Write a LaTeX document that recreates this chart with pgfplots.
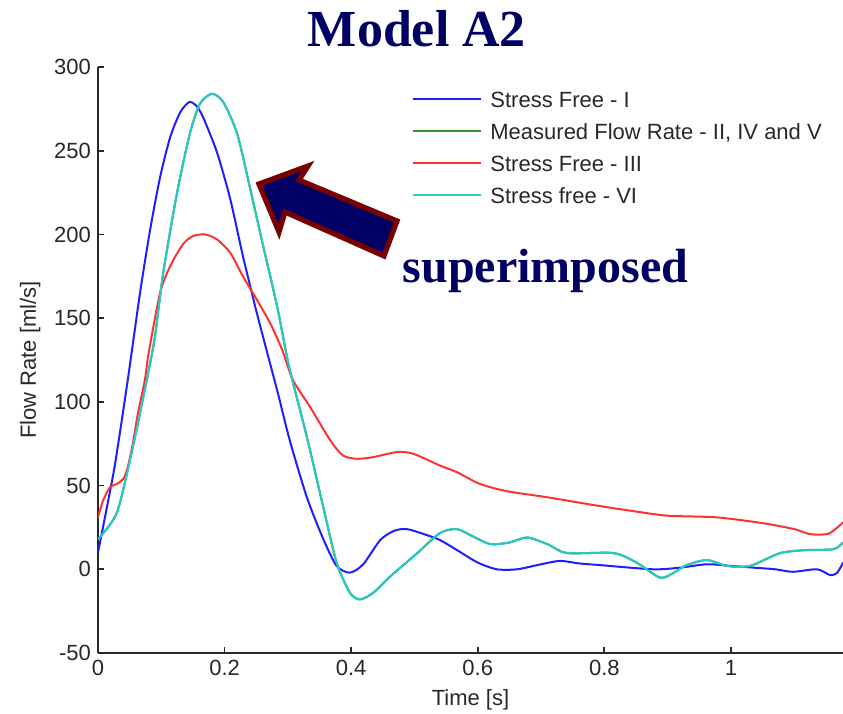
\documentclass[border=0pt]{standalone}
\usepackage{fontspec}
\usepackage{pgfplots}
\pgfplotsset{compat=1.18}
\newfontfamily\arial{Liberation Sans}
\newfontfamily\tnr{Liberation Serif}
\definecolor{cB}{RGB}{30,30,255}
\definecolor{cG}{RGB}{40,150,40}
\definecolor{cR}{RGB}{255,50,50}
\definecolor{cC}{RGB}{40,200,200}
\definecolor{navy}{RGB}{0,0,100}
\definecolor{darkred}{RGB}{120,0,0}
\definecolor{axgray}{RGB}{40,40,40}
\begin{document}
\begin{tikzpicture}
\useasboundingbox (-49pt,-30.5pt) rectangle (372.5pt,326.5pt);
\begin{axis}[
  at={(0pt,0pt)}, anchor=south west, scale only axis,
  width=372.5pt, height=293pt,
  xmin=0, xmax=1.177, ymin=-50, ymax=300,
  axis x line*=bottom, axis y line*=left,
  xtick={0,0.2,0.4,0.6,0.8,1},
  ytick={-50,0,50,100,150,200,250,300},
  tick align=inside, major tick length=3pt,
  axis line style={line width=0.9pt, color=axgray},
  tick style={line width=0.9pt, color=axgray},
  /pgf/number format/assume math mode=true,
  ticklabel style={font=\arial\fontsize{11}{13}\selectfont, text=axgray},
  label style={font=\arial\fontsize{11}{13}\selectfont, text=axgray},
  xlabel={Time [s]}, ylabel={Flow Rate [ml/s]},
  legend style={draw=none, fill=none, inner sep=0pt, at={(0.4215,0.959)}, anchor=north west,
    font=\arial\fontsize{11}{13}\selectfont, text=axgray,
    nodes={inner sep=0pt, text height=8pt, text depth=0pt},
    row sep=8pt, column sep=4pt},
  legend cell align=left,
  legend image code/.code={\draw[#1, line width=1pt] (0pt,0pt) -- (34pt,0pt);},
  every axis plot/.append style={line width=1pt, no markers},
]
\addplot[cB, smooth, tension=0.45] table {
0 10
0.013 35
0.027 63
0.047 113
0.066 164
0.082 202
0.098 234
0.114 258
0.13 273
0.144 279
0.155 277
0.166 270
0.188 249
0.209 221
0.229 187
0.251 153
0.269 127
0.285 104
0.303 77
0.33 43
0.356 18
0.377 2
0.398 -2
0.419 3
0.446 17.5
0.468 23
0.488 24
0.515 21
0.54 17.5
0.567 11.5
0.6 4
0.63 0
0.662 0
0.7 3
0.73 5
0.76 3.5
0.793 2.5
0.877 0
0.92 1
0.962 3
1.0 2
1.035 1
1.07 0
1.098 -1.5
1.136 0
1.157 -3.5
1.168 -2
1.177 4
};
\addlegendentry{Stress Free - I}
\addplot[cG, smooth, tension=0.45] table {
0 18
0.03 34
0.055 73
0.077 113
0.09 139
0.103 177
0.125 225
0.145 260
0.161 278
0.18 284
0.198 279
0.22 260
0.24 228
0.261 193
0.283 157
0.299 126
0.307 113
0.33 79
0.356 37
0.377 4
0.398 -14
0.414 -18
0.435 -14
0.461 -4.5
0.504 9.5
0.54 21.6
0.567 24
0.593 19.5
0.62 15
0.65 16
0.678 19
0.71 15
0.741 9.7
0.814 9.7
0.851 4
0.888 -5
0.91 -2
0.93 2.5
0.962 5.5
0.994 2
1.03 2
1.078 9.7
1.12 11.5
1.162 12
1.177 16
};
\addlegendentry{Measured Flow Rate - II, IV and V}
\addplot[cR, smooth, tension=0.45] table {
0 31
0.008 41
0.019 49
0.03 51
0.04 54
0.047 61
0.055 75
0.063 93
0.074 113
0.08 129
0.098 165
0.114 181
0.134 194
0.15 199
0.169 200
0.188 197
0.209 189
0.229 175
0.251 161
0.272 147
0.291 131
0.308 113
0.335 97
0.367 77
0.387 68
0.409 66
0.435 67
0.472 70
0.498 69
0.54 62
0.567 58
0.6 51.5
0.63 48
0.656 46
0.71 43
0.789 38
0.85 34.5
0.9 32
0.978 31
1.051 27.5
1.1 24
1.125 21
1.152 21
1.165 24
1.177 28
};
\addlegendentry{Stress Free - III}
\addplot[cC, smooth, tension=0.45] table {
0 18
0.03 34
0.055 73
0.077 113
0.09 139
0.103 177
0.125 225
0.145 260
0.161 278
0.18 284
0.198 279
0.22 260
0.24 228
0.261 193
0.283 157
0.299 126
0.307 113
0.33 79
0.356 37
0.377 4
0.398 -14
0.414 -18
0.435 -14
0.461 -4.5
0.504 9.5
0.54 21.6
0.567 24
0.593 19.5
0.62 15
0.65 16
0.678 19
0.71 15
0.741 9.7
0.814 9.7
0.851 4
0.888 -5
0.91 -2
0.93 2.5
0.962 5.5
0.994 2
1.03 2
1.078 9.7
1.12 11.5
1.162 12
1.177 16
};
\addlegendentry{Stress free - VI}
\end{axis}
\node[anchor=base, font=\tnr\bfseries\fontsize{26}{30}\selectfont, text=navy] at (159.5pt,303pt) {Model A2};
\node[anchor=base, font=\tnr\bfseries\fontsize{24}{28}\selectfont, text=navy] at (223.75pt,185.5pt) {superimposed};
\draw[fill=navy, draw=darkred, line width=2.6pt, line join=miter]
  (80.5pt,234.5pt) -- (105pt,243.5pt) -- (100.5pt,236.5pt) -- (149.5pt,216pt)
  -- (143pt,198.5pt) -- (93.5pt,220.5pt) -- (90.5pt,210.5pt) -- cycle;
\end{tikzpicture}
\end{document}
